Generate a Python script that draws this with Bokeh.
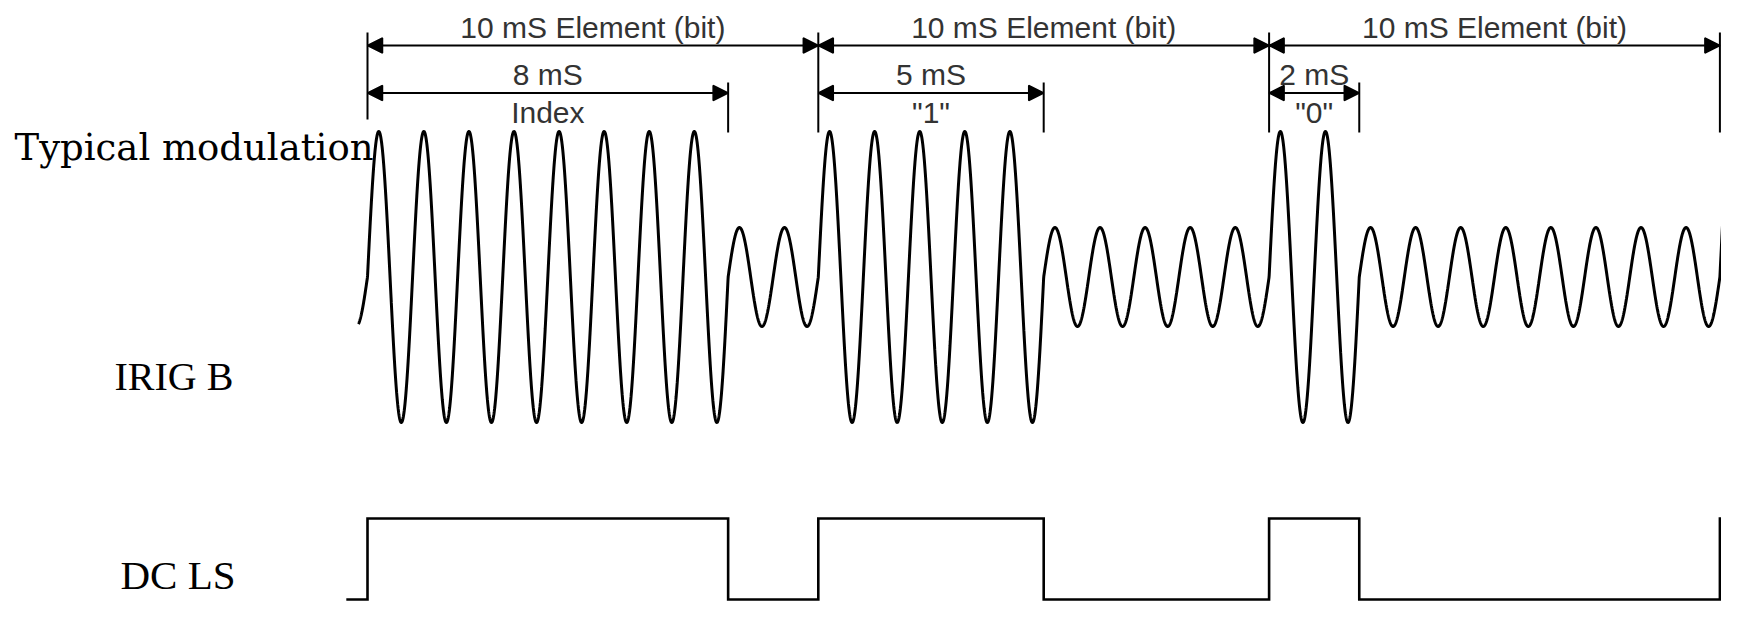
import numpy as np
from bokeh.plotting import figure
from bokeh.models import Range1d, Arrow, NormalHead, ColumnDataSource
from bokeh.core.properties import value
from bokeh.embed import file_html
from bokeh.resources import INLINE

# ---------------- data ----------------
element_names = ['Index', '"1"', '"0"']        # meaning of each 10 ms element
high_ms = [8, 5, 2]                            # mark (high amplitude / DC high) duration, ms
high_labels = ["8 mS", "5 mS", "2 mS"]
element_ms = 10
element_label = "10 mS Element (bit)"
carrier_khz = 1.0                              # 1 kHz carrier -> 1 cycle per ms
amp_mark = 1.0                                 # relative amplitude of mark
amp_space = 0.34                               # relative amplitude of space
row_labels = ["Typical modulation", "IRIG B", "DC LS"]

# ---------------- layout helpers (pixels -> data) ----------------
W, H = 1721, 601
PX0, PXMS = 367.0, 45.08           # pixel of t=0, pixels per ms
PY0, PYU = 276.5, 145.5            # pixel of wave centre, pixels per unit amplitude
K = 0.345                          # text placement correction (fraction of font size)


def tx(px):
    return (px - PX0) / PXMS


def ty(py):
    return (PY0 - py) / PYU


def tb(base, fs):                  # y for a text whose baseline should sit at pixel `base`
    return ty(base - K * fs)


p = figure(width=W, height=H,
           x_range=Range1d(tx(0), tx(W)), y_range=Range1d(ty(H), ty(0)),
           output_backend="svg", toolbar_location=None, min_border=0,
           x_axis_type=None, y_axis_type=None, outline_line_color=None)
p.grid.visible = False
p.background_fill_color = "white"
p.border_fill_color = "white"

n_el = len(high_ms)
starts = [i * element_ms for i in range(n_el)]
t_end = n_el * element_ms

# ---------------- modulated carrier ----------------
t = np.linspace(-0.2, t_end + 0.3, 6200)
amp = np.full_like(t, amp_space)
for s, h in zip(starts, high_ms):
    amp[(t >= s) & (t < s + h)] = amp_mark
amp[t >= t_end] = amp_mark            # next index marker begins
wave = amp * np.sin(2 * np.pi * carrier_khz * t)
p.line(t, wave, line_color="black", line_width=3)

# ---------------- DC level shift ----------------
dc_hi, dc_lo = ty(518), ty(599)
dc_x, dc_y = [-0.47], [dc_lo]
for s, h in zip(starts, high_ms):
    dc_x += [s, s, s + h, s + h]
    dc_y += [dc_lo, dc_hi, dc_hi, dc_lo]
dc_x += [t_end, t_end, t_end + 0.3]
dc_y += [dc_lo, dc_hi, dc_hi]
p.line(dc_x, dc_y, line_color="black", line_width=2.6, line_join="miter")

# ---------------- dimension lines ----------------
bounds = starts + [t_end]
ext_bottom = [ty(119)] + [ty(132)] * n_el
p.segment(x0=bounds, y0=[ty(32)] * len(bounds), x1=bounds, y1=ext_bottom,
          line_color="black", line_width=2)
sub_end = [s + h for s, h in zip(starts, high_ms)]
p.segment(x0=sub_end, y0=[ty(82)] * n_el, x1=sub_end, y1=[ty(132)] * n_el,
          line_color="black", line_width=2)


def head():
    return NormalHead(size=15, fill_color="black", line_color="black", line_width=1.5)


top_src = ColumnDataSource(dict(x0=starts, x1=[s + element_ms for s in starts],
                                y=[ty(45)] * n_el))
p.add_layout(Arrow(start=head(), end=head(), x_start="x0", y_start="y",
                   x_end="x1", y_end="y", source=top_src,
                   line_color="black", line_width=2.2))
sub_src = ColumnDataSource(dict(x0=starts, x1=sub_end, y=[ty(92.5)] * n_el))
p.add_layout(Arrow(start=head(), end=head(), x_start="x0", y_start="y",
                   x_end="x1", y_end="y", source=sub_src,
                   line_color="black", line_width=2.2))

# ---------------- annotation texts ----------------
FS = 30
sans = dict(text_font=value("Liberation Sans"), text_font_size=f"{FS}px",
            text_align="center", text_baseline="alphabetic", text_color="#333333")
p.text(x=[s + element_ms / 2 for s in starts], y=[tb(37.5, FS)] * n_el,
       text=[element_label] * n_el, **sans)
p.text(x=[s + h / 2 for s, h in zip(starts, high_ms)], y=[tb(84, FS)] * n_el,
       text=high_labels, **sans)
p.text(x=[s + h / 2 for s, h in zip(starts, high_ms)], y=[tb(122.5, FS)] * n_el,
       text=element_names, **sans)

# ---------------- row labels ----------------
serif = dict(text_align="left", text_baseline="alphabetic", text_color="black")
p.text(x=[tx(14)], y=[tb(159.5, 37)], text=[row_labels[0]],
       text_font=value("DejaVu Serif"), text_font_size="37px", **serif)
p.text(x=[tx(114)], y=[tb(390, 40)], text=[row_labels[1]],
       text_font=value("Liberation Serif"), text_font_size="40px", **serif)
p.text(x=[tx(120)], y=[tb(589, 41)], text=[row_labels[2]],
       text_font=value("Liberation Serif"), text_font_size="41px", **serif)

open("out.html", "w").write(file_html(p, INLINE))
